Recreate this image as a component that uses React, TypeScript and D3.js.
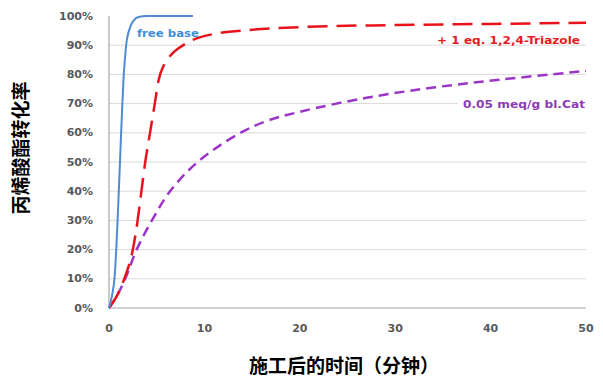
import React from "react";
import * as d3 from "d3";

const yTicks = [0, 0.1, 0.2, 0.3, 0.4, 0.5, 0.6, 0.7, 0.8, 0.9, 1.0];
const xTicks = [0, 10, 20, 30, 40, 50];

const freeBaseT = [0, 0.3, 0.6, 0.9, 1.15, 1.4, 1.55, 1.8, 2.2, 2.6, 3.0, 4, 8.8];
const freeBaseY = [0, 0.04, 0.11, 0.3, 0.5, 0.7, 0.8, 0.9, 0.96, 0.985, 0.996, 1.0, 1.0];

const triazoleT = [0, 0.8, 1.6, 2.5, 3.0, 3.4, 3.8, 4.3, 4.8, 5.2, 5.8, 6.6, 7.4, 8.4, 9.5, 11.3, 14.7, 20, 30, 40, 50];
const triazoleY = [0, 0.04, 0.1, 0.2, 0.3, 0.4, 0.5, 0.6, 0.7, 0.78, 0.835, 0.87, 0.892, 0.912, 0.927, 0.94, 0.952, 0.962, 0.969, 0.973, 0.977];

const catT = [0, 0.8, 1.7, 2.9, 4.5, 6.4, 9.3, 13.5, 16.5, 20, 27, 34, 41, 50];
const catY = [0, 0.04, 0.1, 0.2, 0.3, 0.4, 0.5, 0.595, 0.64, 0.672, 0.72, 0.755, 0.782, 0.812];

const yTitle = "丙烯酸酯转化率";
const xTitle = "施工后的时间（分钟）";
const labelFree = "free base";
const labelTri = "+ 1 eq. 1,2,4-Triazole";
const labelCat = "0.05 meq/g bl.Cat";

export default function App() {
  const W = 603, H = 381;
  const x = d3.scaleLinear().domain([0, 50]).range([109, 586]);
  const y = d3.scaleLinear().domain([0, 1]).range([308, 16]);
  const line = d3
    .line<[number, number]>()
    .x((d) => x(d[0]))
    .y((d) => y(d[1]))
    .curve(d3.curveMonotoneX);
  const smooth = d3
    .line<[number, number]>()
    .x((d) => x(d[0]))
    .y((d) => y(d[1]))
    .curve(d3.curveCatmullRom.alpha(0.5));
  const zip = (a: number[], b: number[]) => a.map((v, i) => [v, b[i]] as [number, number]);
  const tickFont = "'DejaVu Sans', Verdana, sans-serif";
  const cjk = "'Noto Sans CJK SC', sans-serif";
  const annFont = "'DejaVu Sans', sans-serif";

  return (
    <svg
      width={W}
      height={H}
      style={{ position: "absolute", left: 0, top: 0, background: "#fff" }}
    >
      {yTicks.filter((t) => t > 0 && t < 1).map((t) => (
        <line key={"g" + t} x1={x(0)} x2={x(50)} y1={y(t)} y2={y(t)} stroke="#d9d9d9" strokeWidth={1} />
      ))}
      <line x1={x(0)} x2={x(0)} y1={y(0)} y2={y(1)} stroke="#a6a6a6" strokeWidth={1.2} />
      <line x1={x(0)} x2={x(50)} y1={y(0)} y2={y(0)} stroke="#a6a6a6" strokeWidth={1.2} />
      {yTicks.map((t) => (
        <text
          key={"y" + t}
          x={93}
          y={y(t)}
          textAnchor="end"
          dominantBaseline="central"
          fontFamily={tickFont}
          fontWeight="bold"
          fontSize={11}
          fill="#595959"
        >
          {Math.round(t * 100) + "%"}
        </text>
      ))}
      {xTicks.map((t) => (
        <text
          key={"x" + t}
          x={x(t)}
          y={328}
          textAnchor="middle"
          dominantBaseline="central"
          fontFamily={tickFont}
          fontWeight="bold"
          fontSize={11}
          fill="#595959"
        >
          {t}
        </text>
      ))}
      <rect x={458} y={97} width={128} height={15} fill="#fff" />
      <path d={smooth(zip(catT, catY)) || ""} fill="none" stroke="#9a35c8" strokeWidth={2.5} strokeDasharray="10,6" />
      <path d={line(zip(triazoleT, triazoleY)) || ""} fill="none" stroke="#e8121b" strokeWidth={2.5} strokeDasharray="20,9" />
      <path d={line(zip(freeBaseT, freeBaseY)) || ""} fill="none" stroke="#4f8ad2" strokeWidth={2} />
      <text x={137} y={33} dominantBaseline="central" fontFamily={annFont} fontWeight="bold" fontSize={10.5} fill="#3d8fd8"
        textLength={62} lengthAdjust="spacingAndGlyphs">
        {labelFree}
      </text>
      <text x={580} y={40} textAnchor="end" dominantBaseline="central" fontFamily={annFont} fontWeight="bold" fontSize={10.5} fill="#e31c23"
        textLength={143} lengthAdjust="spacingAndGlyphs">
        {labelTri}
      </text>
      <text x={585} y={104} textAnchor="end" dominantBaseline="central" fontFamily={annFont} fontWeight="bold" fontSize={10.5} fill="#8c3db5"
        textLength={122} lengthAdjust="spacingAndGlyphs">
        {labelCat}
      </text>
      <text
        transform={`translate(19,148) rotate(-90)`}
        textAnchor="middle"
        dominantBaseline="central"
        fontFamily={cjk}
        fontWeight="bold"
        fontSize={19}
        fill="#000"
      >
        {yTitle}
      </text>
      <text
        x={344}
        y={364}
        textAnchor="middle"
        dominantBaseline="central"
        fontFamily={cjk}
        fontWeight="bold"
        fontSize={19}
        fill="#000"
      >
        {xTitle}
      </text>
    </svg>
  );
}
